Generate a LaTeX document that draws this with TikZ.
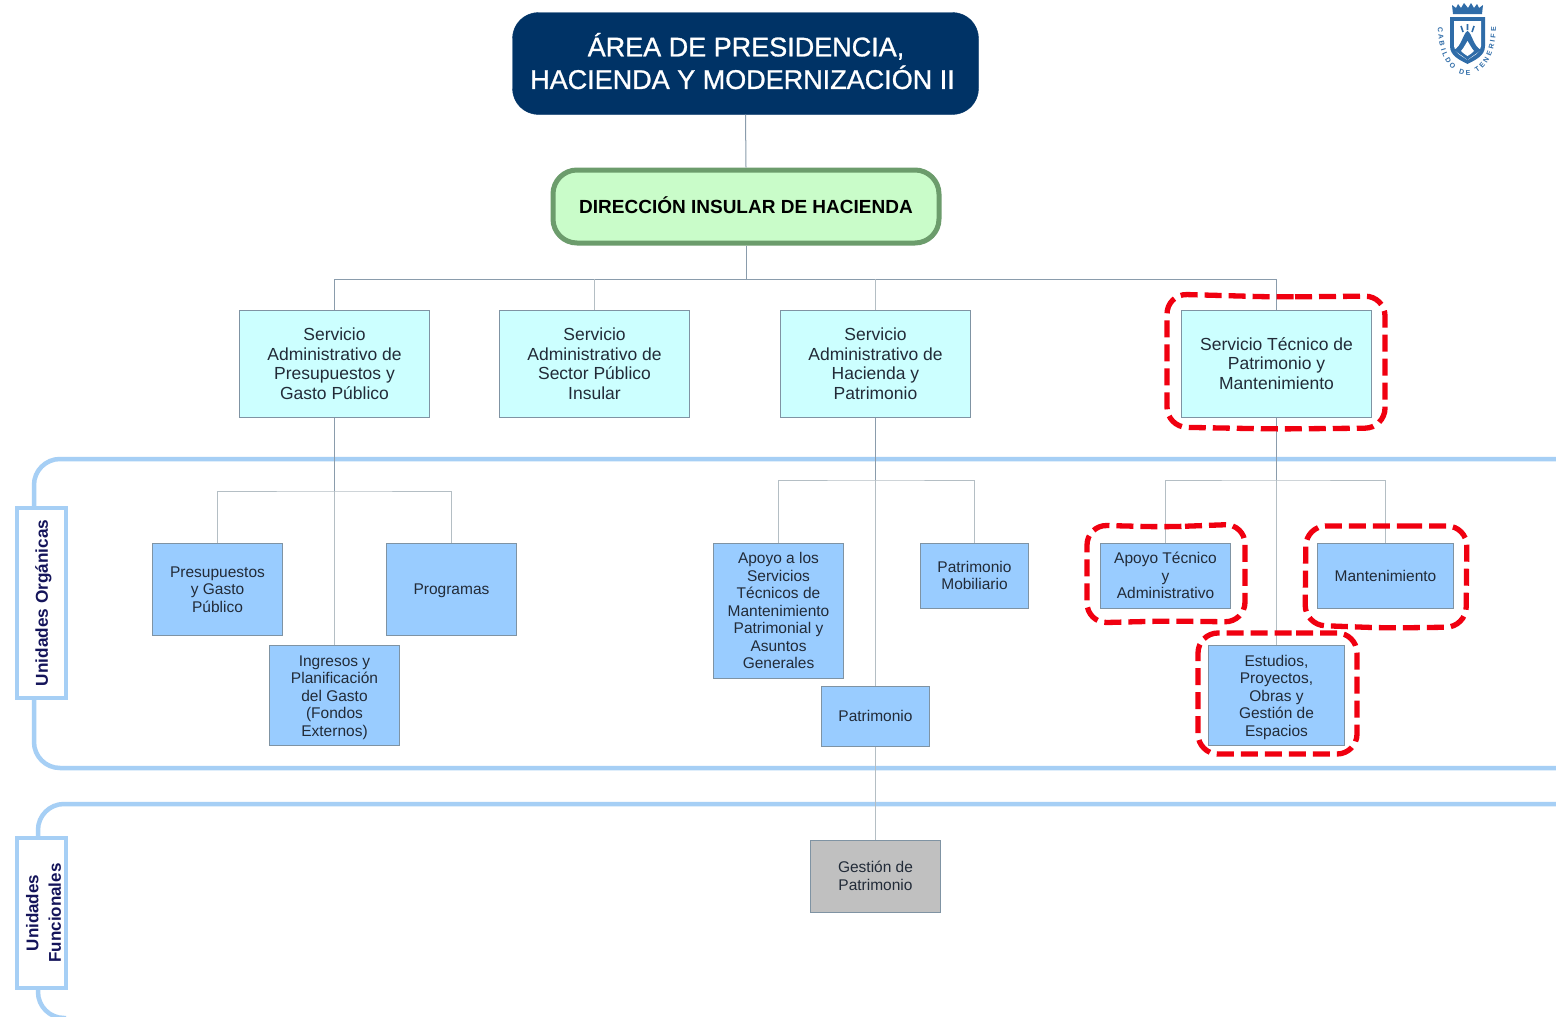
\documentclass[tikz,border=0pt]{standalone}
\usepackage{fontspec}
\setmainfont{Liberation Sans}
\newfontfamily\medfont[FakeBold=1]{Liberation Sans}
\usetikzlibrary{decorations.text}
\definecolor{navy}{HTML}{003366}
\definecolor{greenfill}{HTML}{C9FCC9}
\definecolor{greenedge}{HTML}{6C9C6C}
\definecolor{cyanfill}{HTML}{CCFFFF}
\definecolor{bluefill}{HTML}{99CCFF}
\definecolor{grayfill}{HTML}{C0C0C0}
\definecolor{boxedge}{HTML}{7F93A3}
\definecolor{band}{HTML}{A6CFF5}
\definecolor{linkc}{HTML}{B4BEC4}
\definecolor{linkd}{HTML}{8A9CAC}
\definecolor{txt}{HTML}{222B38}
\definecolor{redmark}{HTML}{F00010}
\definecolor{logoc}{HTML}{2F6CA8}
\definecolor{labelc}{HTML}{14145A}
\newcommand{\lifted}[2]{\raisebox{#1}[\height][\depth]{\begin{tabular}{@{}c@{}}#2\end{tabular}}}
\tikzset{
  boxbase/.style={draw=boxedge,line width=1pt,inner sep=0pt,align=center,text=txt},
  servicebox/.style={boxbase,fill=cyanfill,font=\fontsize{17.5}{19.5}\selectfont},
  unitbox/.style={boxbase,fill=bluefill,font=\fontsize{15.5}{17.5}\selectfont},
  funcbox/.style={boxbase,fill=grayfill,font=\fontsize{15.5}{17.4}\selectfont},
  linkline/.style={draw=linkc,line width=1pt},
  linkdark/.style={draw=linkd,line width=1pt},
  bandline/.style={draw=band,line width=4.5pt},
  bandlabel/.style={draw=band,fill=white,line width=4pt,inner sep=0pt,align=center,text=labelc},
  redmarker/.style={draw=redmark,line width=5.3pt,dash pattern=on 17pt off 7pt,rounded corners=20pt},
}
\begin{document}
\begin{tikzpicture}[x=1pt,y=-1pt]
\useasboundingbox (0,0) rectangle (1556,1017);
\fill[white] (0,0) rectangle (1556,1017);
% bands
\draw[bandline,rounded corners=26pt] (1570,459) -- (34,459) -- (34,768) -- (1570,768);
\draw[bandline,rounded corners=26pt] (1570,804) -- (38,804) -- (38,1018) -- (66,1018);
\node[bandlabel,minimum width=49pt,minimum height=190pt] (lab1) at (41.5,603) {};
\node[rotate=90,font=\fontsize{17.2}{20}\bfseries\selectfont,text=labelc] (lab1t) at (43.5,603) {Unidades Orgánicas};
\node[bandlabel,minimum width=49pt,minimum height=150pt] (lab2) at (41.5,913) {};
\node[rotate=90,font=\fontsize{17}{22.5}\bfseries\selectfont,text=labelc,align=center] (lab2t) at (43.5,913) {Unidades\\Funcionales};
% boxes
\node[draw=navy,fill=navy,rounded corners=26pt,minimum width=466pt,minimum height=102pt,inner sep=0pt,align=center,text=white,font=\fontsize{27}{30.5}\medfont] (top) at (745.5,63.5) {\hspace{-6pt}\lifted{-2pt}{\hspace*{7pt}ÁREA DE PRESIDENCIA,\\HACIENDA Y MODERNIZACIÓN II}};
\node[draw=greenedge,fill=greenfill,line width=5pt,rounded corners=24pt,minimum width=386pt,minimum height=73pt,inner sep=0pt,text=black,font=\fontsize{19}{22}\bfseries\selectfont] (dir) at (746,206.5) {\lifted{-2pt}{DIRECCIÓN INSULAR DE HACIENDA}};
\node[servicebox,minimum width=190pt,minimum height=107pt] (s1) at (334.5,363.5) {Servicio\\Administrativo de\\Presupuestos y\\Gasto Público};
\node[servicebox,minimum width=190pt,minimum height=107pt] (s2) at (594.5,363.5) {Servicio\\Administrativo de\\Sector Público\\Insular};
\node[servicebox,minimum width=190pt,minimum height=107pt] (s3) at (875.5,363.5) {Servicio\\Administrativo de\\Hacienda y\\Patrimonio};
\node[servicebox,minimum width=190pt,minimum height=107pt] (s4) at (1276.5,363.5) {Servicio Técnico de\\Patrimonio y\\Mantenimiento};
\node[unitbox,minimum width=130pt,minimum height=92pt] (u1) at (217.5,589) {\lifted{-2pt}{Presupuestos\\y Gasto\\Público}};
\node[unitbox,minimum width=130pt,minimum height=92pt] (u2) at (451.5,589) {\lifted{-2pt}{Programas}};
\node[unitbox,minimum width=130pt,minimum height=100pt] (u3) at (334.5,695.5) {\lifted{-2pt}{Ingresos y\\Planificación\\del Gasto\\(Fondos\\Externos)}};
\node[unitbox,minimum width=130pt,minimum height=135pt] (a1) at (778.5,610.5) {Apoyo a los\\Servicios\\Técnicos de\\Mantenimiento\\Patrimonial y\\Asuntos\\Generales};
\node[unitbox,minimum width=108pt,minimum height=65pt] (a2) at (974.5,575.5) {Patrimonio\\Mobiliario};
\node[unitbox,minimum width=108pt,minimum height=60pt] (a3) at (875.5,716) {Patrimonio};
\node[funcbox,minimum width=130pt,minimum height=72pt] (g) at (875.5,876) {Gestión de\\Patrimonio};
\node[unitbox,minimum width=130pt,minimum height=65pt] (b1) at (1165.5,575.5) {Apoyo Técnico\\y\\Administrativo};
\node[unitbox,minimum width=136pt,minimum height=65pt] (b2) at (1385.5,575.5) {Mantenimiento};
\node[unitbox,minimum width=136pt,minimum height=100pt] (b3) at (1276.5,695.5) {\lifted{-2pt}{Estudios,\\Proyectos,\\Obras y\\Gestión de\\Espacios}};
% connectors
\coordinate (jt) at (746,279);
\coordinate (j1) at (334.5,491);
\coordinate (j3) at (875.5,480);
\coordinate (j4) at (1276.5,480);
\draw[linkdark] (top.south) -- (dir.north);
\draw[linkdark] (dir.south) -- (jt);
\draw[linkdark] (s1.north) |- (jt);
\draw[linkdark] (jt) -| (s4.north);
\draw[linkline] (s2.north) -- (s2.north |- jt);
\draw[linkline] (s3.north) -- (s3.north |- jt);
\draw[linkdark] (s1.south) -- (j1);
\draw[linkline] (j1) -- (u3.north);
\draw[linkline] (u1.north) |- (j1) -| (u2.north);
\draw[linkdark] (s3.south) -- (j3);
\draw[linkline] (j3) -- (a3.north);
\draw[linkline] (a1.north) |- (j3) -| (a2.north);
\draw[linkline] (a3.south) -- (g.north);
\draw[linkdark] (s4.south) -- (j4);
\draw[linkline] (j4) -- (b3.north);
\draw[linkline] (b1.north) |- (j4) -| (b2.north);
% red highlight marks
\draw[redmarker] (1275,297) -- (1385,296) -- (1385,428) -- (1275,429) -- (1167,427) -- (1167,294) -- cycle;
\draw[redmarker] (1165,527) -- (1245,524) -- (1245,622) -- (1165,621) -- (1087,623) -- (1087,525) -- cycle;
\draw[redmarker] (1385,526) -- (1467,526) -- (1466,627) -- (1385,628) -- (1305,625) -- (1306,526) -- cycle;
\draw[redmarker] (1276,633) -- (1357,633) -- (1357,754) -- (1276,754) -- (1198,754) -- (1198,633) -- cycle;
% logo
\fill[logoc] (1453,14) -- (1452,5) -- (1456,8) -- (1458,4) -- (1461,8) -- (1464,3) -- (1468,8) -- (1471,3) -- (1474,8) -- (1477,4) -- (1479,8) -- (1483,5) -- (1482,14) -- cycle;
\fill[logoc] (1450,17) -- (1485,17) -- (1485,46) .. controls (1485,56) and (1475,60) .. (1467.5,64) .. controls (1460,60) and (1450,56) .. (1450,46) -- cycle;
\fill[white] (1454,21) -- (1481,21) -- (1481,46) .. controls (1481,53) and (1473,56) .. (1467.5,60) .. controls (1462,56) and (1454,53) .. (1454,46) -- cycle;
\fill[logoc] (1467.5,31) .. controls (1472,33) and (1473,46) .. (1481,50) .. controls (1476,54) and (1472,56) .. (1467.5,60) .. controls (1463,56) and (1459,54) .. (1454,50) .. controls (1462,46) and (1463,33) .. (1467.5,31) -- cycle;
\fill[white] (1467.5,41) .. controls (1470,45) and (1472,49) .. (1474,51) .. controls (1471,54) and (1469,55) .. (1467.5,56) .. controls (1466,55) and (1464,54) .. (1461,51) .. controls (1463,49) and (1465,45) .. (1467.5,41) -- cycle;
\draw[logoc,line width=1.6pt] (1461,26) -- (1463,32) (1467.5,24) -- (1467.5,30) (1474,26) -- (1472,32);
\path[decorate,decoration={text along path,text color=logoc,text align={fit to path},
  text={|\fontsize{7}{8}\bfseries\selectfont|CABILDO DE TENERIFE}}]
  (1438,27) .. controls (1438,91) and (1496,91) .. (1496,27);
\end{tikzpicture}
\end{document}
